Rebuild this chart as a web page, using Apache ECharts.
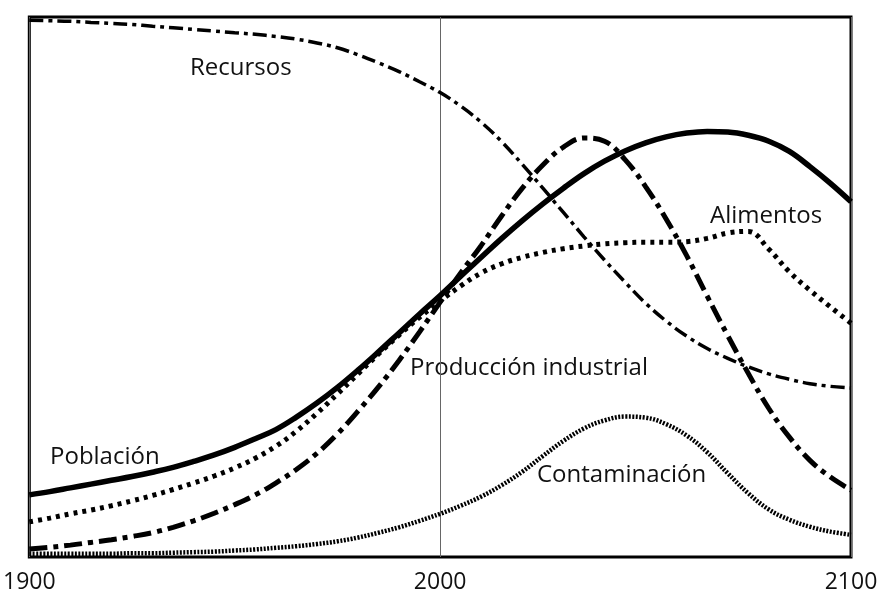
<!DOCTYPE html>
<html>
<head>
<meta charset="utf-8">
<script src="https://cdn.jsdelivr.net/npm/echarts@6/dist/echarts.min.js"></script>
<style>
  html, body { margin: 0; padding: 0; background: #fff; }
  #chart { width: 890px; height: 597px; }
</style>
</head>
<body>
<div id="chart"></div>
<script>
// years, every 5 from 1900 to 2100
var years = [1900, 1905, 1910, 1915, 1920, 1925, 1930, 1935, 1940, 1945,
  1950, 1955, 1960, 1965, 1970, 1975, 1980, 1985, 1990, 1995,
  2000, 2005, 2010, 2015, 2020, 2025, 2030, 2035, 2040, 2045,
  2050, 2055, 2060, 2065, 2070, 2075, 2080, 2085, 2090, 2095, 2100];

var recursos = [99.4, 99.3, 99.2, 99.0, 98.8, 98.6, 98.3, 98.0, 97.7, 97.4,
  97.1, 96.8, 96.4, 95.9, 95.2, 94.3, 93.0, 91.5, 89.9, 88.0,
  86.0, 83.5, 80.5, 76.9, 72.7, 68.3, 63.8, 59.3, 55.0, 50.9,
  47.0, 43.7, 40.9, 38.6, 36.8, 35.2, 33.9, 32.9, 32.1, 31.6, 31.3];

var poblacion = [11.5, 12.1, 12.8, 13.5, 14.2, 14.9, 15.7, 16.6, 17.7, 18.9,
  20.3, 21.9, 23.6, 25.9, 28.5, 31.4, 34.6, 38.0, 41.5, 45.0,
  48.4, 52.0, 55.5, 59.0, 62.3, 65.4, 68.3, 71.0, 73.3, 75.2,
  76.7, 77.8, 78.5, 78.8, 78.7, 78.1, 77.0, 75.1, 72.3, 69.2, 65.8];

var alimentos = [6.5, 7.2, 8.0, 8.7, 9.5, 10.4, 11.4, 12.5, 13.7, 15.0,
  16.5, 18.3, 20.5, 23.3, 26.6, 30.2, 33.9, 37.6, 41.1, 44.4,
  47.4, 50.2, 52.6, 54.3, 55.5, 56.4, 57.1, 57.6, 58.0, 58.2,
  58.3, 58.3, 58.4, 59.0, 60.0, 60.3, 57.0, 52.8, 49.4, 46.3, 43.3];

var produccion = [1.5, 1.8, 2.2, 2.7, 3.2, 3.8, 4.5, 5.5, 6.7, 8.1,
  9.7, 11.5, 13.7, 16.2, 19.2, 22.8, 27.0, 31.5, 36.4, 41.7,
  47.2, 52.6, 57.7, 63.2, 68.3, 72.6, 75.9, 77.6, 77.0, 73.6,
  68.6, 62.6, 55.8, 48.3, 41.0, 34.0, 27.5, 22.2, 17.9, 14.8, 12.4];

var contaminacion = [0.6, 0.6, 0.6, 0.6, 0.6, 0.7, 0.7, 0.8, 0.9, 1.0,
  1.2, 1.4, 1.7, 2.0, 2.4, 2.9, 3.6, 4.5, 5.5, 6.7,
  8.0, 9.5, 11.2, 13.3, 15.8, 18.7, 21.5, 23.8, 25.3, 26.0,
  25.8, 24.6, 22.5, 19.4, 15.5, 11.8, 8.8, 6.9, 5.6, 4.7, 4.1];

var xTicks = [1900, 2000, 2100];

function pairs(vals) {
  return years.map(function (y, i) { return [y, vals[i]]; });
}

function curve(name, vals, width, dash) {
  return {
    name: name,
    type: 'line',
    data: pairs(vals),
    smooth: 0.4,
    symbol: 'none',
    lineStyle: { color: '#000', width: width, type: dash, cap: 'butt' },
    z: 3
  };
}

var font = '"Open Sans", sans-serif';

var chart = echarts.init(document.getElementById('chart'));
chart.setOption({
  animation: false,
  backgroundColor: '#fff',
  grid: {
    left: 29, right: 39, top: 17, bottom: 40,
    show: true, borderColor: '#000', borderWidth: 3
  },
  xAxis: {
    type: 'value',
    min: 1900, max: 2100, interval: 100,
    axisLine: { show: false },
    axisTick: { show: false },
    splitLine: { show: true, lineStyle: { color: '#666', width: 1 } },
    axisLabel: {
      color: '#111', fontSize: 23, fontFamily: font, margin: 14,
      formatter: function (v) { return xTicks.indexOf(v) >= 0 ? String(v) : ''; }
    }
  },
  yAxis: {
    type: 'value', min: 0, max: 100,
    show: false
  },
  series: [
    curve('Recursos', recursos, 3.5, [14, 5, 4, 5]),
    curve('Población', poblacion, 5.5, 'solid'),
    curve('Alimentos', alimentos, 5, [4, 5]),
    curve('Producción industrial', produccion, 5, [18, 6, 5, 6]),
    curve('Contaminación', contaminacion, 4.5, [2, 1.5])
  ],
  graphic: [
    { type: 'text', left: 190, top: 56, style: { text: 'Recursos', font: '24px ' + font, fill: '#111' } },
    { type: 'text', left: 710, top: 204, style: { text: 'Alimentos', font: '24px ' + font, fill: '#111' } },
    { type: 'text', left: 410, top: 356, style: { text: 'Producción industrial', font: '24px ' + font, fill: '#111' } },
    { type: 'text', left: 50, top: 445, style: { text: 'Población', font: '24px ' + font, fill: '#111' } },
    { type: 'text', left: 537, top: 463, style: { text: 'Contaminación', font: '24px ' + font, fill: '#111' } }
  ]
});
</script>
</body>
</html>
